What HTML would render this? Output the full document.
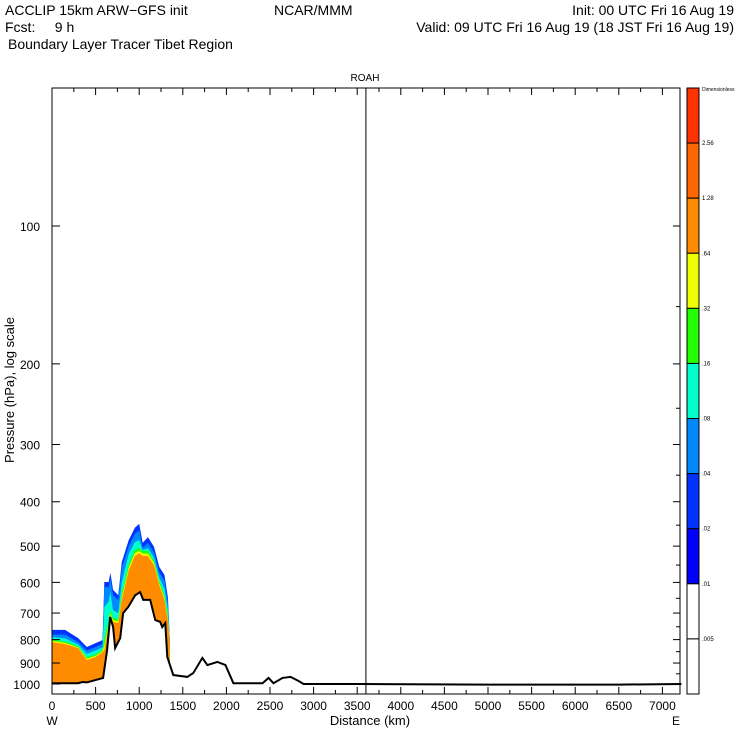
<!DOCTYPE html>
<html><head><meta charset="utf-8"><style>
body{margin:0;background:#fff;}
svg text{font-family:"Liberation Sans",sans-serif;fill:#000;}
</style></head><body>
<svg id="chart" width="740" height="740" xmlns="http://www.w3.org/2000/svg">
<g font-size="14">
<text x="5" y="15">ACCLIP 15km ARW−GFS init</text>
<text x="274" y="15">NCAR/MMM</text>
<text x="734" y="15" text-anchor="end">Init: 00 UTC Fri 16 Aug 19</text>
<text x="5" y="32" xml:space="preserve">Fcst:     9 h</text>
<text x="734" y="32" text-anchor="end">Valid: 09 UTC Fri 16 Aug 19 (18 JST Fri 16 Aug 19)</text>
<text x="8" y="49">Boundary Layer Tracer  Tibet Region</text>
</g>
<text x="365" y="81" text-anchor="middle" font-size="10">ROAH</text>
<g id="plot"></g>
<text x="370" y="725" text-anchor="middle" font-size="13">Distance (km)</text>
<text x="52" y="725" text-anchor="middle" font-size="12">W</text>
<text x="676" y="725" text-anchor="middle" font-size="12">E</text>
<text transform="translate(14,390) rotate(-90)" text-anchor="middle" font-size="13">Pressure (hPa), log scale</text>
</svg>
<script>
const xTicks=[0,500,1000,1500,2000,2500,3000,3500,4000,4500,5000,5500,6000,6500,7000];
const xMinor=[250,750,1250,1750,2250,2750,3250,3750,4250,4750,5250,5750,6250,6750];
const yTicks=[100,200,300,400,500,600,700,800,900,1000];
const yRightMinor=[150,250,350,450,550,650,750,850,950];
const cbLabels=["Dimensionless","2.56","1.28",".64",".32",".16",".08",".04",".02",".01",".005"];
const cbColors=["#ff3300","#ff6600","#ff8c00","#f0ff00","#22ff00","#00ffcc","#0088ff","#0033ff","#0000ff","#ffffff","#ffffff"];
const terrainKm=[0,299,350,400,586,632,667,701,724,782,816,874,954,1011,1046,1126,1184,1241,1264,1299,1322,1391,1552,1621,1724,1782,1897,1989,2080,2414,2483,2540,2644,2736,2828,2885,3540,5000,6500,7218];
const terrainP=[996,996,990,992,970,843,714,751,835,794,700,679,640,630,655,655,725,732,751,736,873,956,965,946,877,909,895,909,996,996,970,996,970,965,985,1000,1000,1003,1003,1000];
const tracerKm=[0,150,300,400,500,580,600,650,670,700,760,800,880,950,1000,1040,1100,1170,1230,1290,1330,1350];
const darkBlueTop=[762,762,794,830,814,802,599,599,572,623,640,542,485,456,447,492,478,502,555,578,649,794];
const lightBlueTop=[780,780,810,845,830,818,615,615,590,640,655,556,500,470,462,505,492,516,570,594,665,800];
const cyanTop=[790,795,820,860,845,832,680,660,630,690,700,600,520,490,485,510,505,530,585,620,690,800];
const greenTop=[800,808,828,875,862,842,800,725,690,718,722,635,548,510,505,513,512,538,596,640,715,802];
const yellowTop=[805,813,832,881,868,847,825,735,700,725,729,645,556,518,512,519,519,544,602,648,724,802];
const orangeTop=[810,818,835,887,873,852,843,743,707,732,736,655,564,525,518,525,525,550,608,655,732,802];
const stationKm=3600;

const L=52,R=680,T=88,B=694;
const X=km=>L+km*0.0872;
const Y=p=>226+458*Math.log10(p/100);
const NS="http://www.w3.org/2000/svg";
const g=document.getElementById('plot');
function mk(tag,at){const e=document.createElementNS(NS,tag);for(const k in at)e.setAttribute(k,at[k]);g.appendChild(e);return e;}
function ground(km){for(let i=1;i<terrainKm.length;i++){if(km<=terrainKm[i]){const t=(km-terrainKm[i-1])/(terrainKm[i]-terrainKm[i-1]);return terrainP[i-1]+t*(terrainP[i]-terrainP[i-1]);}}return terrainP[terrainP.length-1];}
function band(top,color,name){
  let pts=tracerKm.map((k,i)=>X(k)+','+Y(top[i]));
  const k0=tracerKm[0],k1=tracerKm[tracerKm.length-1];
  pts.push(X(k1)+','+Y(ground(k1)));
  for(let i=terrainKm.length-1;i>=0;i--){if(terrainKm[i]<k1&&terrainKm[i]>k0)pts.push(X(terrainKm[i])+','+Y(terrainP[i]));}
  pts.push(X(k0)+','+Y(ground(k0)));
  const e=mk('polygon',{points:pts.join(' '),fill:color});
  
  
}
band(darkBlueTop,"#0033ff","tracer-band-blue");
band(lightBlueTop,"#0088ff","tracer-band-lightblue");
band(cyanTop,"#00ffcc","tracer-band-cyan");
band(greenTop,"#22ff00","tracer-band-green");
band(yellowTop,"#f0ff00","tracer-band-yellow");
band(orangeTop,"#ff8c00","tracer-band-orange");
const tl=mk('polyline',{points:terrainKm.map((k,i)=>X(k)+','+Y(terrainP[i])).join(' '),fill:'none',stroke:'#000','stroke-width':2});


const sl=mk('line',{x1:X(stationKm),x2:X(stationKm),y1:T,y2:B,stroke:'#000','stroke-width':1});


const fr=mk('rect',{x:L,y:T,width:R-L,height:B-T,fill:'none',stroke:'#000','stroke-width':1});


xTicks.forEach(v=>{
  const t=mk('line',{x1:X(v),x2:X(v),y1:B,y2:B-7,stroke:'#000'});
  
  
  const t2=mk('line',{x1:X(v),x2:X(v),y1:T,y2:T+7,stroke:'#000'});
  
  
  const tx=mk('text',{x:X(v),y:710,'text-anchor':'middle','font-size':12});
  tx.textContent=v;
  
  
});
xMinor.forEach(v=>{
  const t=mk('line',{x1:X(v),x2:X(v),y1:B,y2:B-4,stroke:'#000'});
  
  
  const t2=mk('line',{x1:X(v),x2:X(v),y1:T,y2:T+4,stroke:'#000'});
  
  
});
yTicks.forEach(v=>{
  const t=mk('line',{x1:L,x2:L+8,y1:Y(v),y2:Y(v),stroke:'#000'});
  
  
  const t2=mk('line',{x1:R,x2:R-7,y1:Y(v),y2:Y(v),stroke:'#000'});
  
  
  const tx=mk('text',{x:L-12,y:Y(v)+5,'text-anchor':'end','font-size':12});
  tx.textContent=v;
  
  
});
yRightMinor.forEach(v=>{
  const t=mk('line',{x1:R,x2:R-4,y1:Y(v),y2:Y(v),stroke:'#000'});
  
  
});
const cx=687,cw=12,ch=(B-T)/cbColors.length;
cbColors.forEach((c,i)=>{
  const r=mk('rect',{x:cx,y:T+i*ch,width:cw,height:ch,fill:c,stroke:'#000','stroke-width':1});
  
  
});
cbLabels.forEach((s,i)=>{
  const tx=mk('text',{x:702,y:T+i*ch+(i==0?3:2),'font-size':i==0?5:6});
  tx.textContent=s;
  
  
});
</script>
</body></html>
